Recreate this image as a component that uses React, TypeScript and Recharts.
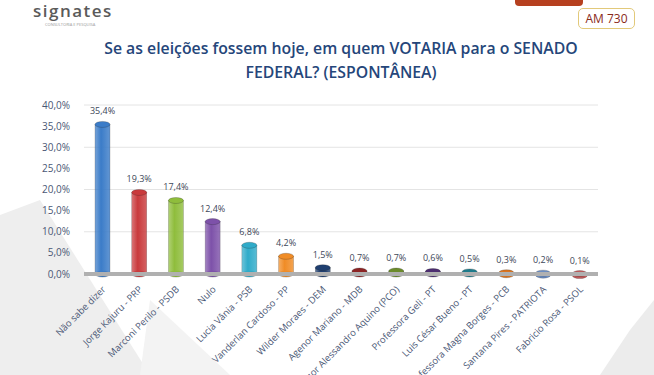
import { BarChart, Bar, XAxis, YAxis, CartesianGrid, LabelList, ReferenceLine } from 'recharts';

const candidates = [
  'Não sabe dizer',
  'Jorge Kajuru - PRP',
  'Marconi Perilo - PSDB',
  'Nulo',
  'Lucia Vânia - PSB',
  'Vanderlan Cardoso - PP',
  'Wilder Moraes - DEM',
  'Agenor Mariano - MDB',
  'Professor Alessandro Aquino (PCO)',
  'Professora Geli - PT',
  'Luis César Bueno - PT',
  'Professora Magna Borges - PCB',
  'Santana Pires - PATRIOTA',
  'Fabricio Rosa - PSOL',
];
const percentages = [35.4, 19.3, 17.4, 12.4, 6.8, 4.2, 1.5, 0.7, 0.7, 0.6, 0.5, 0.3, 0.2, 0.1];
const yTicks = [0, 5, 10, 15, 20, 25, 30, 35, 40];

const barColors = [
  '#3b7cc8', '#c93a3c', '#8fbd3c', '#7d51a9', '#2fabc9', '#f08c26', '#1f3f70',
  '#8c2424', '#6b8b2b', '#4c2d70', '#1e7b8b', '#da741f', '#6b8dc2', '#c25b5b',
];

const pct = (v: number) => v.toFixed(1).replace('.', ',') + '%';

const chartData = candidates.map((name, i) => ({ name, value: percentages[i], color: barColors[i] }));

// cilindro simples: corpo com gradiente + elipse no topo
function Cylinder(props: any) {
  const { x, y, width, height, index, payload } = props;
  if (!(width > 0)) return null;
  const color = payload?.color ?? '#888';
  const r = Math.min(3, width / 4);
  const id = `g-${index}`;
  const h = Math.max(height, 2);
  return (
    <g>
      <defs>
        <linearGradient id={id} x1="0" y1="0" x2="1" y2="0">
          <stop offset="0%" stopColor={color} stopOpacity={0.7} />
          <stop offset="40%" stopColor={color} stopOpacity={1} />
          <stop offset="100%" stopColor={color} stopOpacity={0.8} />
        </linearGradient>
      </defs>
      <ellipse cx={x + width / 2} cy={y + h} rx={width / 2} ry={r} fill={color} stroke="#222" strokeOpacity={0.4} strokeWidth={0.6} />
      <rect x={x} y={y} width={width} height={h} fill={`url(#${id})`} stroke="#333" strokeOpacity={0.35} strokeWidth={0.6} />
      <ellipse cx={x + width / 2} cy={y} rx={width / 2} ry={r} fill={color} stroke="#222" strokeOpacity={0.4} strokeWidth={0.6} />
    </g>
  );
}

function AngledTick(props: any) {
  const { x, y, payload } = props;
  return (
    <g transform={`translate(${x + 4},${y + 8})`}>
      <text textAnchor="end" transform="rotate(-45)" fontSize={9.5} fill="#4a5775" fontFamily="'Open Sans', sans-serif">
        {payload.value}
      </text>
    </g>
  );
}

export default function App() {
  return (
    <div style={{ position: 'absolute', left: 0, top: 0, width: 654, height: 375, background: '#ffffff', overflow: 'hidden', fontFamily: "'Open Sans', sans-serif" }}>
      <svg width={654} height={375} style={{ position: 'absolute', left: 0, top: 0 }}>
        <polygon points="0,215 40,200 150,375 0,375" fill="#eeeeee" />
        <polygon points="150,300 230,375 140,375" fill="#f3f3f3" />
        <polygon points="630,330 654,300 654,375 600,375" fill="#ececec" />
      </svg>

      <div style={{ position: 'absolute', left: 33, top: 0, fontSize: 17, letterSpacing: 1.5, color: '#5a5a5a', fontWeight: 600, lineHeight: '22px' }}>signates</div>
      <div style={{ position: 'absolute', left: 45, top: 22, fontSize: 4, color: '#999' }}>CONSULTORIA E PESQUISA</div>
      <div style={{ position: 'absolute', left: 515, top: -8, width: 68, height: 14, background: '#b6401f', borderRadius: 4 }} />
      <div style={{ position: 'absolute', left: 578, top: 8, width: 55, height: 19, border: '1px solid #e2c97a', borderRadius: 5, fontSize: 12, color: '#8a2a1a', textAlign: 'center', lineHeight: '19px' }}>AM 730</div>

      <div style={{ position: 'absolute', left: 0, top: 36, width: 682, textAlign: 'center', fontSize: 15.8, fontWeight: 600, color: '#25467a', lineHeight: '24px' }}>
        Se as eleições fossem hoje, em quem VOTARIA para o SENADO<br />FEDERAL? (ESPONTÂNEA)
      </div>

      <div style={{ position: 'absolute', left: 0, top: 0 }}>
        <BarChart width={654} height={375} data={chartData} margin={{ top: 105, right: 56, bottom: 0, left: 0 }} barSize={15}>
          <CartesianGrid vertical={false} stroke="#e4e4e4" />
          <XAxis dataKey="name" interval={0} height={101} tick={<AngledTick />} tickLine={false} axisLine={false} />
          <YAxis
            domain={[0, 40]}
            ticks={yTicks}
            width={84}
            tickFormatter={pct}
            tick={{ fill: '#4a5775', fontSize: 10 }}
            tickLine={false}
            axisLine={false}
            tickSize={0}
            tickMargin={14}
          />
          <ReferenceLine y={0} stroke="#b0b0b0" strokeWidth={4} />
          <Bar dataKey="value" isAnimationActive={false} shape={(p: any) => <Cylinder {...p} />}>
            <LabelList dataKey="value" position="top" offset={10} formatter={(v: any) => pct(Number(v))} style={{ fontSize: 9, fill: '#404858' }} />
          </Bar>
        </BarChart>
      </div>
    </div>
  );
}
